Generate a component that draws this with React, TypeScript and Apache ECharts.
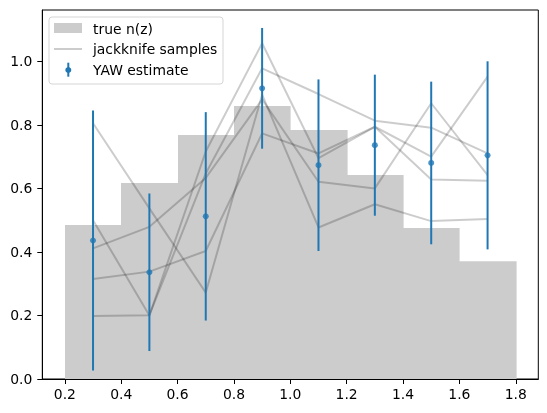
import React, { useEffect, useRef } from "react";
import * as echarts from "echarts";

const binEdges = [0.2, 0.4, 0.6, 0.8, 1.0, 1.2, 1.4, 1.6, 1.8];
const trueNz = [0.485, 0.617, 0.768, 0.859, 0.784, 0.642, 0.475, 0.371];

const zMid = [0.3, 0.5, 0.7, 0.9, 1.1, 1.3, 1.5, 1.7];
const yawEstimate = [0.436, 0.336, 0.512, 0.915, 0.673, 0.736, 0.68, 0.704];
const yawError = [0.409, 0.248, 0.328, 0.19, 0.27, 0.222, 0.256, 0.296];

const jackA = [0.805, 0.537, 0.272, 0.895, 0.477, 0.55, 0.497, 0.504];
const jackB = [0.5, 0.2, 0.716, 1.057, 0.695, 0.794, 0.7, 0.952];
const jackC = [0.411, 0.479, 0.633, 0.88, 0.621, 0.6, 0.868, 0.642];
const jackD = [0.315, 0.338, 0.403, 0.773, 0.71, 0.794, 0.628, 0.624];
const jackE = [0.198, 0.201, 0.647, 0.978, 0.897, 0.813, 0.791, 0.71];
const jackSamples = [jackA, jackB, jackC, jackD, jackE];

const xTicks = [0.2, 0.4, 0.6, 0.8, 1.0, 1.2, 1.4, 1.6, 1.8];
const yTicks = [0.0, 0.2, 0.4, 0.6, 0.8, 1.0];

const FONT = "DejaVu Sans";
const FS = 13.9;
const BLUE = "#1f77b4";
const JK = "rgba(0,0,0,0.2)";

export default function App() {
  const ref = useRef<HTMLDivElement>(null);
  useEffect(() => {
    if (!ref.current) return;
    const chart = echarts.init(ref.current, undefined, { renderer: "svg" });

    const barData = trueNz.map((h, i) => [binEdges[i], binEdges[i + 1], h]);
    const errData = zMid.map((z, i) => [z, yawEstimate[i] - yawError[i], yawEstimate[i] + yawError[i]]);

    const jackSeries = jackSamples.map((s) => ({
      type: "line",
      data: zMid.map((z, i) => [z, s[i]]),
      symbol: "none",
      lineStyle: { color: JK, width: 2 },
      z: 3,
      silent: true,
    }));

    const legendText = (y: number, t: string) => ({
      type: "text",
      x: 93,
      y,
      style: { text: t, fill: "#000", font: `${FS}px '${FONT}'`, textVerticalAlign: "middle", verticalAlign: "middle" },
      z: 101,
    });

    chart.setOption({
      animation: false,
      grid: {
        left: 42.3,
        right: 8.7,
        top: 10,
        bottom: 34,
        show: true,
        borderColor: "#000",
        borderWidth: 1,
        backgroundColor: "transparent",
      },
      xAxis: {
        type: "value",
        min: 0.12,
        max: 1.88,
        z: 10,
        axisLine: { show: true, lineStyle: { color: "#000", width: 1 } },
        axisTick: { show: true, length: 5, lineStyle: { color: "#000", width: 1 }, customValues: xTicks },
        axisLabel: {
          customValues: xTicks,
          formatter: (v: number) => v.toFixed(1),
          color: "#000",
          fontFamily: FONT,
          fontSize: FS,
          margin: 8,
        },
        splitLine: { show: false },
      },
      yAxis: {
        type: "value",
        min: 0,
        max: 1.1615,
        z: 10,
        axisLine: { show: true, lineStyle: { color: "#000", width: 1 } },
        axisTick: { show: true, length: 5, lineStyle: { color: "#000", width: 1 }, customValues: yTicks },
        axisLabel: {
          customValues: yTicks,
          formatter: (v: number) => v.toFixed(1),
          color: "#000",
          fontFamily: FONT,
          fontSize: FS,
          margin: 10,
        },
        splitLine: { show: false },
      },
      series: [
        {
          type: "custom",
          name: "true n(z)",
          data: barData,
          encode: { x: [0, 1], y: 2 },
          z: 1,
          renderItem: (params: any, api: any) => {
            const p0 = api.coord([api.value(0), api.value(2)]);
            const p1 = api.coord([api.value(1), 0]);
            const xa = Math.round(p0[0]);
            const xb = Math.round(p1[0]);
            return {
              type: "rect",
              shape: { x: xa, y: p0[1], width: xb - xa + 0.6, height: p1[1] - p0[1] },
              style: { fill: "#cccccc" },
            };
          },
        },
        ...jackSeries,
        {
          type: "custom",
          name: "YAW estimate",
          data: errData,
          encode: { x: 0, y: [1, 2] },
          z: 5,
          renderItem: (params: any, api: any) => {
            const a = api.coord([api.value(0), api.value(1)]);
            const b = api.coord([api.value(0), api.value(2)]);
            return {
              type: "line",
              shape: { x1: a[0], y1: a[1], x2: b[0], y2: b[1] },
              style: { stroke: BLUE, lineWidth: 2 },
            };
          },
        },
        {
          type: "scatter",
          data: zMid.map((z, i) => [z, yawEstimate[i]]),
          symbol: "circle",
          symbolSize: 6,
          itemStyle: { color: BLUE },
          z: 6,
        },
      ],
      graphic: [
        {
          type: "rect",
          shape: { x: 49, y: 17, width: 174, height: 67, r: 3 },
          style: { fill: "rgba(255,255,255,0.8)", stroke: "#d5d5d5", lineWidth: 1 },
          z: 100,
        },
        {
          type: "rect",
          shape: { x: 54, y: 23, width: 28, height: 10 },
          style: { fill: "#cccccc" },
          z: 101,
        },
        legendText(29, "true n(z)"),
        {
          type: "line",
          shape: { x1: 54, y1: 49, x2: 82, y2: 49 },
          style: { stroke: JK, lineWidth: 2 },
          z: 101,
        },
        legendText(49, "jackknife samples"),
        {
          type: "line",
          shape: { x1: 68.3, y1: 62.7, x2: 68.3, y2: 76.7 },
          style: { stroke: BLUE, lineWidth: 2 },
          z: 101,
        },
        {
          type: "circle",
          shape: { cx: 68.3, cy: 70, r: 3 },
          style: { fill: BLUE },
          z: 102,
        },
        legendText(70, "YAW estimate"),
      ],
    });
    return () => chart.dispose();
  }, []);
  return <div ref={ref} style={{ position: "fixed", left: 0, top: 0, width: 547, height: 413 }} />;
}
